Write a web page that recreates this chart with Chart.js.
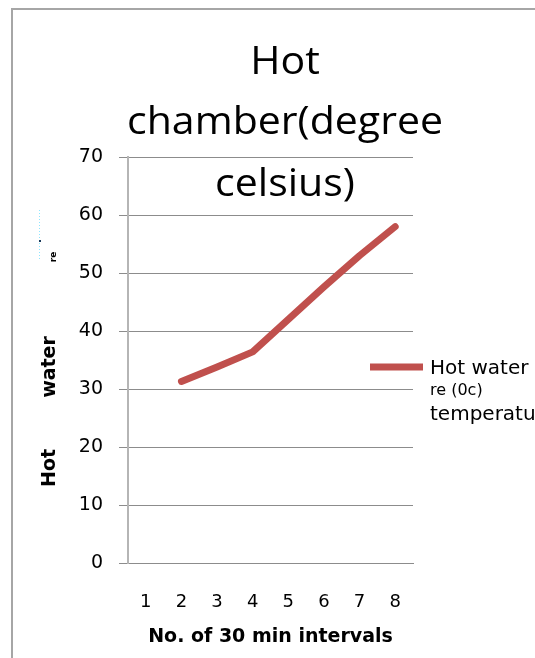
<!DOCTYPE html>
<html>
<head>
<meta charset="utf-8">
<script src="https://cdn.jsdelivr.net/npm/chart.js@4/dist/chart.umd.min.js"></script>
<style>
  html, body { margin: 0; padding: 0; background: #ffffff; }
  #wrap { position: relative; width: 535px; height: 658px; }
</style>
</head>
<body>
<div id="wrap"><canvas id="c" width="535" height="658"></canvas></div>
<script>
const categories = ["1", "2", "3", "4", "5", "6", "7", "8"];
const hotWater = [null, 31.3, 33.8, 36.4, 42.0, 47.6, 53.0, 58.0];
const seriesLabel = ["Hot water", "re (0c)", "temperature"];
const titleLines = ["Hot", "chamber(degree", "celsius)"];
const yTitleParts = ["Hot", "water", "re"];
const xTitle = "No. of 30 min intervals";
const yMin = 0, yMax = 70, yStep = 10;

const LINE_COLOR = "#c0504d";
const TITLE_FONT = "'Open Sans', sans-serif";
const FONT = "'DejaVu Sans', sans-serif";

const decor = {
  id: "decor",
  beforeDraw(chart) {
    const ctx = chart.ctx;
    ctx.save();
    ctx.fillStyle = "#fff";
    ctx.fillRect(0, 0, chart.width, chart.height);
    ctx.strokeStyle = "#a6a6a6";
    ctx.lineWidth = 2;
    ctx.beginPath();
    ctx.moveTo(12, chart.height);
    ctx.lineTo(12, 9);
    ctx.lineTo(chart.width, 9);
    ctx.stroke();
    ctx.restore();
  },
  afterDraw(chart) {
    const ctx = chart.ctx;
    ctx.save();
    // title
    ctx.fillStyle = "#000";
    ctx.textAlign = "center";
    ctx.textBaseline = "middle";
    ctx.font = "38px " + TITLE_FONT;
    const sx = 316 / ctx.measureText(titleLines[1]).width;
    const tx = 285;
    const ty = [63, 123, 185];
    titleLines.forEach((t, i) => {
      ctx.setTransform(sx, 0, 0, 1, tx, ty[i]);
      ctx.fillText(t, 0, 0);
    });
    ctx.setTransform(1, 0, 0, 1, 0, 0);

    // y-axis title (rotated)
    ctx.font = "bold 19px " + FONT;
    ctx.fillStyle = "#000";
    ctx.translate(50, 0);
    ctx.rotate(-Math.PI / 2);
    ctx.fillText(yTitleParts[0], -468, 0);
    ctx.fillText(yTitleParts[1], -367, 0);
    ctx.font = "bold 9px " + FONT;
    ctx.fillText(yTitleParts[2], -257, 4);
    ctx.setTransform(1, 0, 0, 1, 0, 0);
    // small dotted artifact
    ctx.strokeStyle = "#8fe6ff";
    ctx.lineWidth = 1;
    ctx.setLineDash([1, 2]);
    ctx.beginPath();
    ctx.moveTo(39.5, 210);
    ctx.lineTo(39.5, 260);
    ctx.stroke();
    ctx.setLineDash([]);
    ctx.fillStyle = "#1a3a5a";
    ctx.fillRect(39, 240, 2, 2);

    // legend
    const ds = chart.data.datasets[0];
    ctx.strokeStyle = ds.borderColor;
    ctx.lineWidth = 7;
    ctx.beginPath();
    ctx.moveTo(370, 367);
    ctx.lineTo(423, 367);
    ctx.stroke();
    ctx.fillStyle = "#000";
    ctx.textAlign = "left";
    ctx.textBaseline = "middle";
    ctx.font = "20px " + FONT;
    ctx.fillText(seriesLabel[0], 430, 369);
    ctx.font = "16px " + FONT;
    ctx.fillText(seriesLabel[1], 430, 391);
    ctx.font = "20px " + FONT;
    ctx.fillText(seriesLabel[2], 430, 415);
    ctx.restore();
  }
};

new Chart(document.getElementById("c"), {
  type: "line",
  data: {
    labels: categories,
    datasets: [{
      label: seriesLabel.join(" "),
      data: hotWater,
      borderColor: LINE_COLOR,
      backgroundColor: LINE_COLOR,
      borderWidth: 7,
      pointRadius: 0,
      tension: 0,
      spanGaps: false,
      borderCapStyle: "round",
      borderJoinStyle: "round"
    }]
  },
  options: {
    responsive: false,
    animation: false,
    devicePixelRatio: 1,
    layout: { padding: { left: 0, top: 157, right: 122, bottom: 0 } },
    plugins: {
      legend: { display: false },
      title: { display: false },
      tooltip: { enabled: false }
    },
    scales: {
      x: {
        offset: true,
        grid: { display: false, drawTicks: false },
        border: { display: true, color: "#8c8c8c", width: 1 },
        ticks: { color: "#000", font: { family: FONT, size: 18 }, padding: 29, maxRotation: 0 },
        title: {
          display: true, text: xTitle, color: "#000",
          font: { family: FONT, size: 19, weight: "bold" },
          padding: { top: 0, bottom: 10 }
        },
        afterFit(scale) { scale.height = 95; }
      },
      y: {
        min: yMin, max: yMax,
        grid: { color: "#8c8c8c", lineWidth: 1, tickLength: 9, drawTicks: true },
        border: { display: true, color: "#b5b5b5", width: 2 },
        ticks: { stepSize: yStep, color: "#000", font: { family: FONT, size: 19 }, padding: 16 },
        afterFit(scale) { scale.width = 128; }
      }
    }
  },
  plugins: [decor]
});
</script>
</body>
</html>
